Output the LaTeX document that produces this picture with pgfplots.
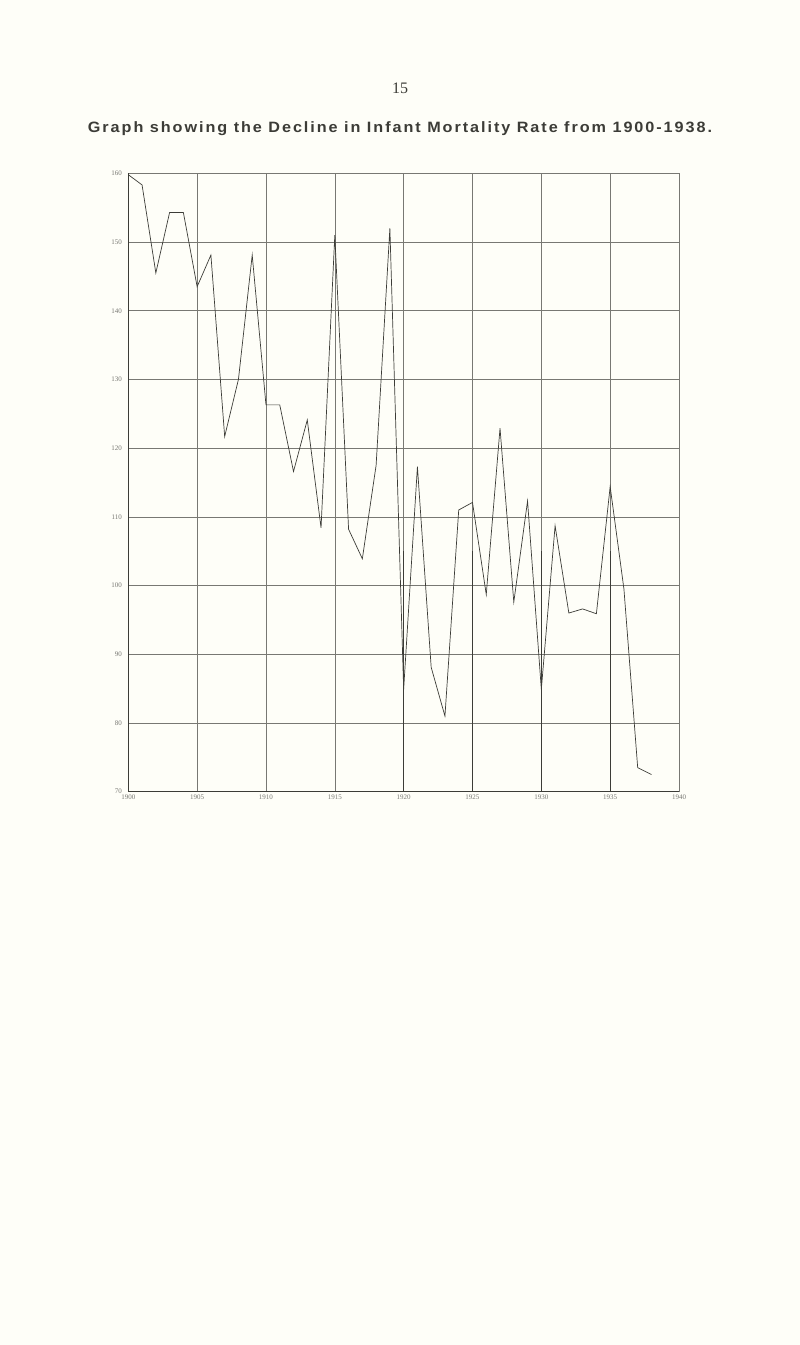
\documentclass[border=0pt]{standalone}
\usepackage{pgfplots}
\pgfplotsset{compat=1.18}
\usepackage{fontspec}
\setmainfont{Liberation Serif}
\newfontfamily\titlefont[LetterSpace=13,FakeStretch=1.08]{Liberation Sans}
\definecolor{paper}{RGB}{254,254,248}
\definecolor{ink}{RGB}{60,60,55}
\definecolor{gridc}{RGB}{120,120,115}
\definecolor{lab}{RGB}{120,120,115}

\pgfplotstableread{
year rate
1900 159.8
1901 158.3
1902 145.5
1903 154.3
1904 154.3
1905 143.5
1906 148.1
1907 121.7
1908 130.0
1909 148.1
1910 126.3
1911 126.3
1912 116.6
1913 124.1
1914 108.4
1915 151.0
1916 108.2
1917 103.9
1918 117.5
1919 152.0
1920 84.9
1921 117.3
1922 88.1
1923 81.0
1924 111.0
1925 112.1
1926 98.7
1927 122.9
1928 97.6
1929 112.3
1930 84.9
1931 108.7
1932 96.0
1933 96.6
1934 95.9
1935 114.4
1936 99.5
1937 73.5
1938 72.5
}\imr

\begin{document}
\begin{tikzpicture}[x=1pt,y=1pt]
\fill[paper] (0,0) rectangle (800,1345);
\useasboundingbox (0,0) rectangle (800,1345);
\node[font=\fontsize{16}{18}\selectfont, text=ink] at (400,1257) {15};
\node[font=\titlefont\bfseries\fontsize{15}{18}\selectfont, text=ink] at (400,1216)
  {Graph showing the Decline in Infant Mortality Rate from 1900-1938.};
\begin{axis}[
  at={(128.3pt,553.3pt)}, anchor=south west,
  scale only axis, width=550.7pt, height=618.4pt,
  xmin=1900, xmax=1940, ymin=70, ymax=160,
  xtick={1900,1905,...,1940}, ytick={70,80,...,160},
  xticklabel style={/pgf/number format/set thousands separator={}},
  ticklabel style={font=\fontsize{7}{8}\selectfont, text=lab},
  yticklabel style={xshift=-3pt},
  /pgf/number format/assume math mode=true,
  tick style={draw=none},
  grid=major,
  major grid style={draw=gridc, line width=0.5pt},
  axis line style={draw=gridc, line width=0.6pt},
  clip=false,
]
\draw[ink, line width=0.9pt] (axis cs:1900,160) -- (axis cs:1900,70) -- (axis cs:1940,70);
\foreach \yr in {1920,1925,1930,1935}{
  \edef\tmp{\noexpand\draw[ink, line width=0.7pt] (axis cs:\yr,70) -- (axis cs:\yr,105);}\tmp
}
\addplot[ink, line width=0.7pt, mark=none] table[x=year, y=rate] {\imr};
\end{axis}
\end{tikzpicture}
\end{document}
